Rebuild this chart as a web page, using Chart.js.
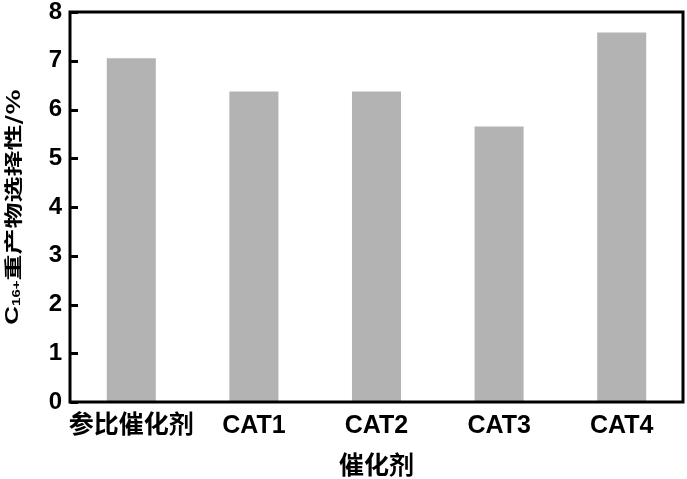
<!DOCTYPE html>
<html>
<head>
<meta charset="utf-8">
<script src="https://cdn.jsdelivr.net/npm/chart.js@4"></script>
<style>
  html, body { margin: 0; padding: 0; background: #fff; }
  #wrap { width: 687px; height: 479px; }
</style>
</head>
<body>
<div id="wrap"><canvas id="selChart" width="687" height="479"></canvas></div>
<script>
// data
const categories = ['参比催化剂', 'CAT1', 'CAT2', 'CAT3', 'CAT4'];
const selectivity = [7.05, 6.37, 6.37, 5.65, 7.58];
const yTicks = [0, 1, 2, 3, 4, 5, 6, 7, 8];

const cjk = '"Noto Sans CJK SC", "Liberation Sans", sans-serif';
const latin = '"Liberation Sans", Arial, sans-serif';
const mixed = '"Liberation Sans", "Noto Sans CJK SC", sans-serif';

// frame box, inward y ticks and the y title with subscript
const framePlugin = {
    id: 'frame',
    afterDraw(chart) {
        const ctx = chart.ctx;
        const a = chart.chartArea;
        const y = chart.scales.y;
        ctx.save();
        ctx.strokeStyle = '#000';
        ctx.lineWidth = 3;
        ctx.strokeRect(a.left, a.top, a.right - a.left, a.bottom - a.top);
        y.ticks.forEach(t => {
            const py = Math.round(y.getPixelForValue(t.value)) + 0.5;
            ctx.beginPath();
            ctx.moveTo(a.left, py);
            ctx.lineTo(a.left + 8, py);
            ctx.stroke();
        });

        // rotated y title: C16+重产物选择性/%
        ctx.translate(13, (a.top + a.bottom) / 2);
        ctx.rotate(-Math.PI / 2);
        ctx.scale(1, 0.7);
        ctx.fillStyle = '#000';
        ctx.textBaseline = 'middle';
        const parts = [
            { t: 'C', f: 'bold 26px ' + latin, dy: 0 },
            { t: '16+', f: 'bold 15px ' + latin, dy: 6 },
            { t: '重产物选择性/%', f: 'bold 26px ' + cjk, dy: 0 }
        ];
        let total = 0;
        parts.forEach(p => { ctx.font = p.f; p.w = ctx.measureText(p.t).width; total += p.w; });
        let x = -total / 2;
        parts.forEach(p => {
            ctx.font = p.f;
            ctx.fillText(p.t, x, p.dy);
            x += p.w;
        });
        ctx.restore();
    }
};

const ctx = document.getElementById('selChart').getContext('2d');
const selChart = new Chart(ctx, {
    type: 'bar',
    data: {
        labels: categories,
        datasets: [{
            data: selectivity,
            backgroundColor: '#b3b3b3',
            borderWidth: 0,
            barPercentage: 0.4,
            categoryPercentage: 1
        }]
    },
    options: {
        responsive: false,
        animation: false,
        layout: { padding: { top: 12, right: 4, left: 0, bottom: 0 } },
        plugins: { legend: { display: false }, tooltip: { enabled: false } },
        scales: {
            x: {
                grid: { display: false, drawTicks: false },
                border: { display: false },
                ticks: {
                    color: '#000',
                    padding: 9,
                    maxRotation: 0,
                    minRotation: 0,
                    autoSkip: false,
                    font: { family: mixed, size: 25, weight: 'bold' }
                },
                title: {
                    display: true,
                    text: '催化剂',
                    color: '#000',
                    font: { family: cjk, size: 25, weight: 'bold' },
                    padding: { top: 7, bottom: 0 }
                },
                afterFit(scale) { scale.height = 77; scale.paddingLeft = 0; scale.paddingRight = 0; }
            },
            y: {
                min: 0,
                max: 8,
                afterBuildTicks(scale) { scale.ticks = yTicks.map(v => ({ value: v })); },
                grid: { display: false, drawTicks: false },
                border: { display: false },
                ticks: {
                    color: '#000',
                    padding: 8,
                    font: { family: latin, size: 24, weight: 'bold' }
                },
                afterFit(scale) { scale.width = 70; scale.paddingTop = 0; scale.paddingBottom = 0; }
            }
        }
    },
    plugins: [framePlugin]
});
</script>
</body>
</html>
